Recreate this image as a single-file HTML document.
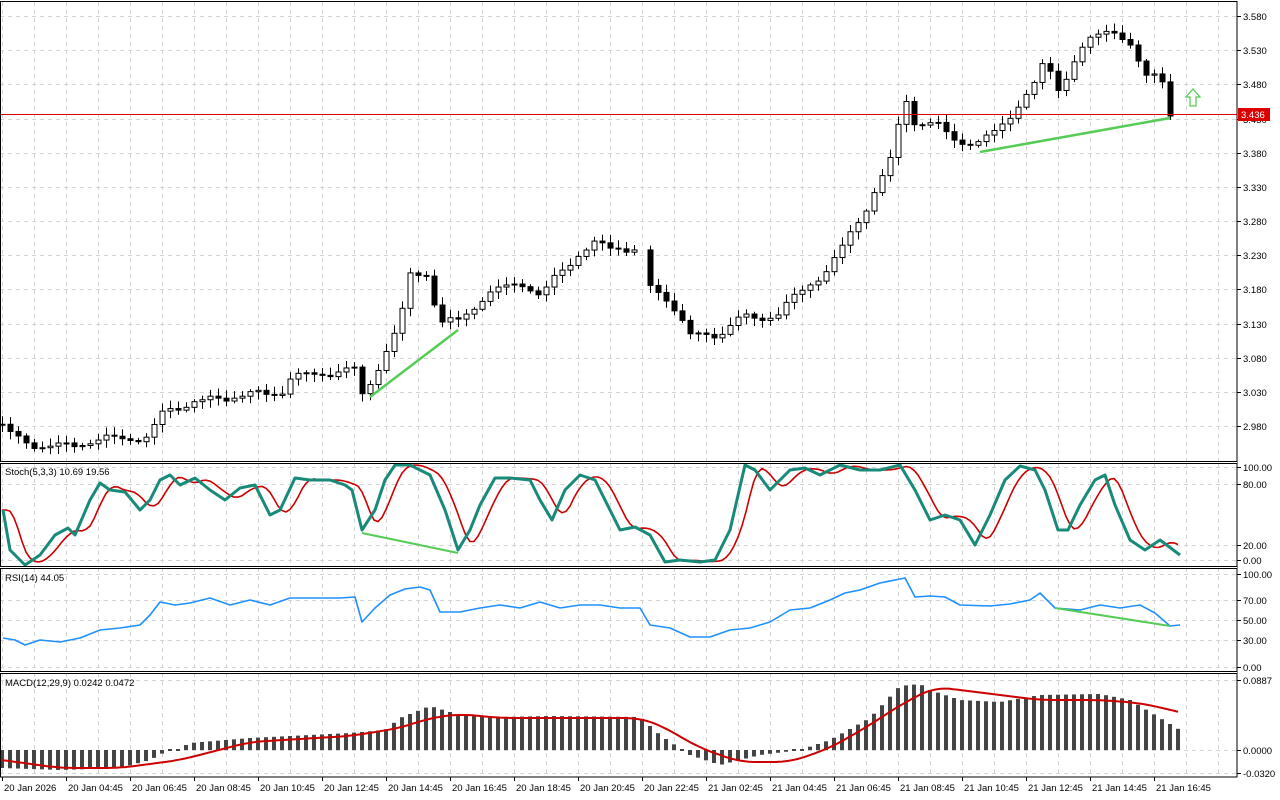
<!DOCTYPE html>
<html><head><meta charset="utf-8"><style>
html,body{margin:0;padding:0;background:#fff;}
svg{display:block;font-family:"Liberation Sans",sans-serif;}
</style></head><body>
<svg id="s" width="1280" height="800" xmlns="http://www.w3.org/2000/svg"></svg>
<script>
const S=document.getElementById('s');let h='';
function interp(a,x){if(x<=a[0][0])return a[0][1];for(let i=1;i<a.length;i++){if(x<=a[i][0]){const[x0,y0]=a[i-1],[x1,y1]=a[i];return y0+(y1-y0)*(x-x0)/(x1-x0);}}return a[a.length-1][1];}
function smooth(a,x0,x1,w){let r=[];for(let x=x0;x<=x1;x+=3){let v=0,n=0;for(let k=-w;k<=w;k+=3){v+=interp(a,x+k);n++;}r.push([x,v/n]);}return r;}
function pl(a,c,w){return `<polyline fill="none" stroke="${c}" stroke-width="${w}" stroke-linejoin="round" points="${a.map(p=>p[0]+','+p[1].toFixed(1)).join(' ')}"/>`;}
const panels=[[2,461],[463,566],[568,671],[673,777]];
for(let x=2;x<1237;x+=32){panels.forEach(p=>{h+=`<line x1="${x+.5}" y1="${p[0]}" x2="${x+.5}" y2="${p[1]}" stroke="#d4d4d4" stroke-dasharray="4,4" stroke-width="1"/>`;});}
function hg(y){h+=`<line x1="0" y1="${y+.5}" x2="1237" y2="${y+.5}" stroke="#d4d4d4" stroke-dasharray="4,4"/>`;}
function lab(y,t){h+=`<line x1="1237" y1="${y+.5}" x2="1241" y2="${y+.5}" stroke="#000"/><text x="1243" y="${y+4}" font-size="9.5">${t}</text>`;}
const prices=['3.580','3.530','3.480','3.430','3.380','3.330','3.280','3.230','3.180','3.130','3.080','3.030','2.980'];
prices.forEach((t,i)=>{const y=Math.round(16+i*34.17);hg(y);lab(y,t);});
[[467,'100.00'],[484,'80.00'],[545,'20.00'],[560,'0.00']].forEach(a=>{hg(a[0]);lab(a[0],a[1]);});
[[574,'100.00'],[600,'70.00'],[620,'50.00'],[640,'30.00'],[667,'0.00']].forEach(a=>{hg(a[0]);lab(a[0],a[1]);});
[[680,'0.0887'],[750,'0.0000'],[773,'-0.0320']].forEach(a=>{hg(a[0]);lab(a[0],a[1]);});
const CA=[[2,425],[20,440],[40,446],[70,447],[100,440],[150,437],[160,412],[190,402],[250,395],[280,395],[290,378],[355,368],[362,395],[372,378],[385,353],[400,322],[410,275],[425,272],[440,325],[460,320],[480,300],[500,288],[520,280],[540,297],[560,270],[575,258],[595,245],[640,252],[650,287],[670,300],[690,335],[720,333],[740,318],[775,318],[800,292],[830,268],[850,232],[870,200],[890,160],[905,95],[915,125],[935,125],[960,143],[980,145],[1000,125],[1030,92],[1045,58],[1060,90],[1075,60],[1095,33],[1110,28],[1130,50],[1145,75],[1160,70],[1170,116]];
let prev=interp(CA,-6);
for(let x=2;x<=1170;x+=8){
 if(x==642||x==646)continue;
 let c=interp(CA,x)+Math.sin(x*1.7)*5*Math.abs(Math.sin(x*.31));
 if(x==1170)c=116;
 let o=prev;prev=c;
 let top=Math.min(o,c),bot=Math.max(o,c);if(bot-top<1)bot=top+1;
 let wt=top-2-Math.abs(Math.sin(x*2.3))*6,wb=bot+2+Math.abs(Math.cos(x*1.9))*6;
 h+=`<line x1="${x+.5}" y1="${wt}" x2="${x+.5}" y2="${wb}" stroke="#000"/>`;
 h+=`<rect x="${x-2}" y="${top}" width="5" height="${bot-top}" fill="${c<o?'#fff':'#000'}" stroke="#000" stroke-width="1"/>`;
}
h+=`<line x1="0" y1="114.5" x2="1237" y2="114.5" stroke="#d00"/>`;
h+=`<rect x="1238" y="108" width="32" height="13" fill="#d00"/><text x="1241" y="118" font-size="9.5" fill="#fff">3.436</text>`;
h+=`<path d="M1193 89 L1200 97 L1196 97 L1196 106 L1190 106 L1190 97 L1186 97 Z" fill="#fff" stroke="#5c5" stroke-width="1.3"/>`;
h+=pl([[370,397],[458,330]],'#5c5',2.5)+pl([[980,152],[1170,118]],'#5c5',2.5);
const ST=[[3,510],[10,550],[25,565],[40,555],[55,535],[68,528],[75,535],[90,500],[100,483],[110,490],[125,492],[140,510],[150,500],[160,480],[170,475],[180,485],[195,478],[210,490],[225,500],[240,488],[255,485],[270,515],[280,510],[295,478],[310,480],[330,480],[345,485],[352,490],[362,530],[375,510],[385,480],[395,465],[410,465],[430,475],[445,510],[458,550],[470,530],[480,505],[495,478],[510,478],[530,480],[540,500],[552,520],[565,490],[580,475],[595,480],[610,510],[620,530],[635,527],[650,535],[665,562],[680,560],[700,562],[715,560],[730,530],[745,465],[755,470],[770,490],[790,470],[805,468],[820,475],[840,465],[860,470],[880,470],[900,465],[915,490],[930,520],[945,515],[960,520],[975,545],[990,515],[1005,480],[1020,466],[1035,470],[1045,490],[1058,530],[1068,530],[1080,505],[1095,480],[1105,475],[1115,505],[1130,540],[1145,550],[1160,540],[1180,555]];
let red=[];for(let x=2;x<=1180;x+=4){let v=0;for(let k=0;k<5;k++)v+=interp(ST,x-6-k*3);red.push([x,v/5]);}
h+=pl(red,'#c00',1.6)+pl(ST,'#178a7a',3);
h+=pl([[362,533],[458,553]],'#5c5',2);
const RS=[[3,638],[15,640],[25,645],[40,640],[60,642],[80,638],[100,630],[120,628],[140,625],[150,615],[160,602],[175,605],[190,603],[210,598],[230,605],[250,600],[270,605],[290,598],[310,598],[340,598],[355,597],[362,622],[375,608],[390,595],[405,589],[420,587],[430,590],[440,612],[460,612],[480,608],[500,605],[520,608],[540,602],[560,608],[580,605],[600,605],[620,608],[640,608],[650,625],[670,628],[690,637],[710,637],[730,630],[750,628],[770,622],[790,610],[810,608],[830,600],[845,593],[860,590],[880,583],[905,578],[915,597],[930,596],[945,597],[960,605],[990,606],[1010,604],[1030,600],[1040,593],[1055,608],[1080,610],[1100,605],[1120,608],[1140,605],[1155,613],[1170,626],[1180,625]];
h+=pl(RS,'#1e90ff',1.6)+pl([[1055,608],[1170,626]],'#5c5',2);
const MH=[[2,768],[60,770],[120,768],[150,760],[165,752],[180,748],[190,743],[250,738],[350,733],[385,730],[400,718],[430,706],[460,715],[500,717],[550,716],[640,717],[660,735],[690,755],[720,765],[760,755],[800,750],[830,740],[870,718],[900,686],[920,684],[930,690],[960,700],[1000,702],[1040,695],[1100,694],[1130,700],[1180,730]];
for(let x=2;x<=1180;x+=8){let y=interp(MH,x);let t=Math.min(y,750),b=Math.max(y,750);if(b-t<1.5){t=749;b=751;}h+=`<rect x="${x-2}" y="${t}" width="4" height="${b-t}" fill="#444"/>`;}
const MS=[[-20,758],[2,760],[60,768],[120,768],[180,760],[250,742],[350,736],[400,728],[430,718],[460,714],[500,718],[640,718],[660,725],[700,748],[740,762],[790,762],[830,748],[870,725],[900,705],[935,687],[960,690],[1000,695],[1040,700],[1100,700],[1140,703],[1180,712],[1200,718]];
h+=pl(smooth(MS,2,1180,15),'#c00',2);
h+=`<rect x="0.5" y="1.5" width="1236.5" height="775.5" fill="none" stroke="#000"/>`;
[462,567,672].forEach(y=>{h+=`<line x1="0" y1="${y-.5}" x2="1237" y2="${y-.5}" stroke="#000"/><line x1="0" y1="${y+1.5}" x2="1237" y2="${y+1.5}" stroke="#000"/><rect x="0" y="${y}" width="1237" height="1" fill="#fff"/>`;});
h+=`<text x="5" y="475" font-size="9.5">Stoch(5,3,3) 10.69 19.56</text><text x="5" y="581" font-size="9.5">RSI(14) 44.05</text><text x="5" y="686" font-size="9.5">MACD(12,29,9) 0.0242 0.0472</text>`;
const dl=['20 Jan 2026','20 Jan 04:45','20 Jan 06:45','20 Jan 08:45','20 Jan 10:45','20 Jan 12:45','20 Jan 14:45','20 Jan 16:45','20 Jan 18:45','20 Jan 20:45','20 Jan 22:45','21 Jan 02:45','21 Jan 04:45','21 Jan 06:45','21 Jan 08:45','21 Jan 10:45','21 Jan 12:45','21 Jan 14:45','21 Jan 16:45'];
dl.forEach((t,i)=>{const x=2+64*i;h+=`<line x1="${x+.5}" y1="777" x2="${x+.5}" y2="781" stroke="#000"/><text x="${x+2}" y="791" font-size="9.5">${t}</text>`;});
S.innerHTML=h;
</script>
</body></html>
